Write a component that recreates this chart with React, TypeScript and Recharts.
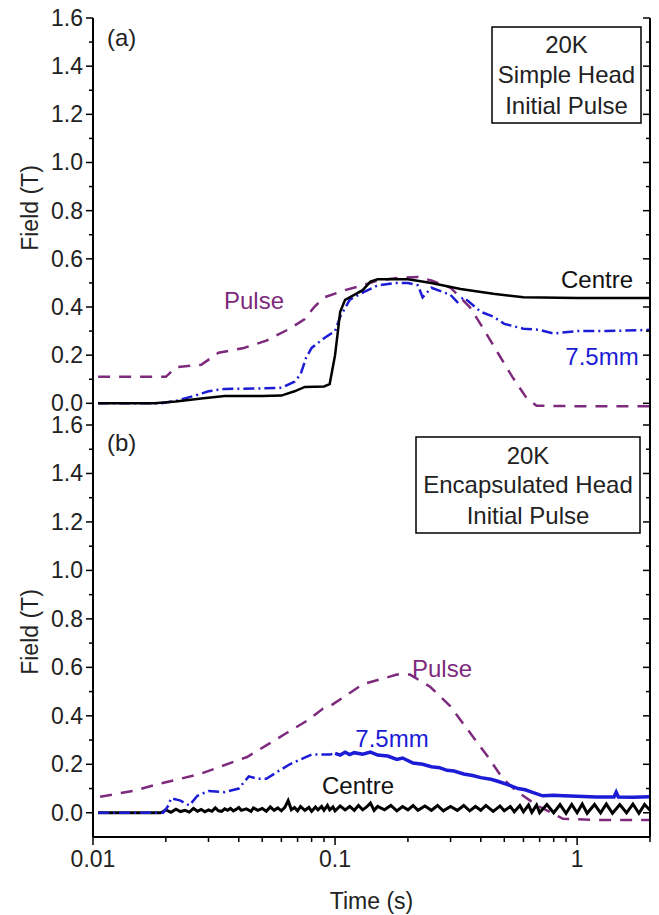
import React from 'react';
import { LineChart, Line, XAxis, YAxis, Customized } from 'recharts';

const FONT = '"Liberation Sans", Arial, Helvetica, sans-serif';
const PURPLE = '#7d2a7d';
const BLUE = '#1c1cd6';
const BLACK = '#000000';

const X_TICKS = [0.01, 0.02, 0.03, 0.04, 0.05, 0.06, 0.07, 0.08, 0.09, 0.1, 0.2, 0.3, 0.4, 0.5, 0.6, 0.7, 0.8, 0.9, 1, 2];
const X_LABELS: Record<string, string> = { '0.01': '0.01', '0.1': '0.1', '1': '1' };
const Y_TICKS = [0, 0.1, 0.2, 0.3, 0.4, 0.5, 0.6, 0.7, 0.8, 0.9, 1.0, 1.1, 1.2, 1.3, 1.4, 1.5, 1.6];

// Panel (a) — Simple Head
const pulseA: [number, number][] = [
  [0.0105, 0.11], [0.02, 0.11], [0.022, 0.15], [0.028, 0.16], [0.033, 0.21], [0.042, 0.23],
  [0.052, 0.26], [0.065, 0.31], [0.075, 0.35], [0.082, 0.4], [0.09, 0.44], [0.11, 0.47],
  [0.13, 0.49], [0.15, 0.51], [0.18, 0.52], [0.22, 0.525], [0.25, 0.51], [0.3, 0.48],
  [0.36, 0.4], [0.41, 0.31], [0.47, 0.21], [0.54, 0.11], [0.62, 0.02], [0.68, -0.01],
  [1, -0.012], [2, -0.012],
];
const blueA: [number, number][] = [
  [0.0105, 0], [0.019, 0], [0.022, 0.01], [0.026, 0.03], [0.03, 0.05], [0.035, 0.06],
  [0.05, 0.062], [0.06, 0.065], [0.068, 0.09], [0.072, 0.12], [0.076, 0.19], [0.08, 0.23],
  [0.09, 0.27], [0.1, 0.3], [0.105, 0.36], [0.115, 0.43], [0.13, 0.46], [0.15, 0.49],
  [0.18, 0.5], [0.2, 0.5], [0.22, 0.49], [0.23, 0.44], [0.25, 0.48], [0.3, 0.45],
  [0.32, 0.42], [0.34, 0.44], [0.4, 0.38], [0.45, 0.36], [0.5, 0.33], [0.6, 0.31],
  [0.7, 0.305], [0.8, 0.29], [1, 0.3], [1.3, 0.3], [2, 0.305],
];
const centreA: [number, number][] = [
  [0.0105, 0], [0.018, 0], [0.022, 0.008], [0.028, 0.02], [0.035, 0.03], [0.05, 0.03],
  [0.06, 0.032], [0.068, 0.05], [0.075, 0.068], [0.09, 0.07], [0.095, 0.08], [0.1, 0.2],
  [0.105, 0.38], [0.11, 0.43], [0.12, 0.45], [0.13, 0.47], [0.14, 0.505], [0.15, 0.515],
  [0.2, 0.515], [0.25, 0.5], [0.33, 0.475], [0.45, 0.455], [0.6, 0.44], [1, 0.437], [2, 0.437],
];

// Panel (b) — Encapsulated Head
const pulseB: [number, number][] = [
  [0.0107, 0.066], [0.0146, 0.09], [0.0189, 0.12], [0.0229, 0.14], [0.0277, 0.16], [0.0335, 0.19],
  [0.0433, 0.23], [0.0524, 0.28], [0.0633, 0.33], [0.0766, 0.38], [0.0892, 0.43], [0.0953, 0.44],
  [0.13, 0.53], [0.18, 0.57], [0.204, 0.57], [0.247, 0.52], [0.299, 0.44], [0.361, 0.33],
  [0.425, 0.235], [0.494, 0.14], [0.565, 0.087], [0.684, 0.03], [0.875, -0.025], [1.2, -0.03], [2, -0.03],
];
const blueB: [number, number][] = [
  [0.0105, 0], [0.0195, 0], [0.0205, 0.03], [0.021, 0.06], [0.023, 0.05], [0.025, 0.03],
  [0.027, 0.07], [0.03, 0.09], [0.035, 0.085], [0.04, 0.1], [0.044, 0.15], [0.048, 0.14],
  [0.052, 0.14], [0.058, 0.17], [0.065, 0.2], [0.072, 0.22], [0.08, 0.24], [0.095, 0.24],
  [0.1, 0.245], [0.105, 0.238], [0.11, 0.25], [0.115, 0.24], [0.12, 0.248], [0.13, 0.242],
  [0.14, 0.25], [0.15, 0.238], [0.165, 0.234], [0.18, 0.22], [0.19, 0.226], [0.21, 0.205],
  [0.23, 0.2], [0.25, 0.19], [0.27, 0.186], [0.29, 0.175], [0.31, 0.172], [0.34, 0.16],
  [0.37, 0.154], [0.4, 0.145], [0.44, 0.138], [0.47, 0.13], [0.52, 0.115], [0.57, 0.1],
  [0.61, 0.095], [0.65, 0.085], [0.72, 0.07], [0.8, 0.072], [0.88, 0.07], [1, 0.068],
  [1.2, 0.065], [1.42, 0.065], [1.45, 0.085], [1.48, 0.065], [1.7, 0.064], [2, 0.066],
];
const centreB: [number, number][] = [
  [0.0105, 0], [0.019, 0], [0.0195, 0.005], [0.02, 0.012], [0.021, 0.002], [0.022, 0.015],
  [0.023, 0.005], [0.024, 0.01], [0.025, 0.003], [0.026, 0.018], [0.027, 0.006], [0.028, 0.014],
  [0.029, 0.004], [0.03, 0.012], [0.031, 0.006], [0.032, 0.02], [0.033, 0.008], [0.034, 0.006],
  [0.035, 0.016], [0.036, 0.01], [0.037, 0.018], [0.038, 0.008], [0.039, 0.014], [0.04, 0.022],
  [0.041, 0.01], [0.043, 0.016], [0.045, 0.006], [0.046, 0.02], [0.048, 0.01], [0.05, 0.018],
  [0.052, 0.006], [0.054, 0.024], [0.056, 0.01], [0.058, 0.02], [0.06, 0.008], [0.062, 0.022],
  [0.064, 0.05], [0.066, 0.012], [0.068, 0.022], [0.07, 0.008], [0.072, 0.026], [0.075, 0.01],
  [0.078, 0.022], [0.08, 0.006], [0.083, 0.024], [0.085, 0.012], [0.088, 0.026], [0.09, 0.01],
  [0.093, 0.03], [0.095, 0.012], [0.098, 0.024], [0.1, 0.008], [0.105, 0.028], [0.11, 0.012],
  [0.115, 0.026], [0.12, 0.01], [0.125, 0.03], [0.13, 0.012], [0.135, 0.024], [0.14, 0.04],
  [0.145, 0.01], [0.15, 0.026], [0.16, 0.012], [0.17, 0.03], [0.18, 0.008], [0.19, 0.026],
  [0.2, 0.012], [0.21, 0.03], [0.22, 0.01], [0.235, 0.028], [0.25, 0.01], [0.265, 0.03],
  [0.28, 0.008], [0.3, 0.026], [0.32, 0.01], [0.34, 0.03], [0.36, 0.008], [0.38, 0.026],
  [0.4, 0.01], [0.42, 0.03], [0.45, 0.006], [0.48, 0.028], [0.5, 0.008], [0.53, 0.026],
  [0.55, 0.004], [0.58, 0.03], [0.6, 0.004], [0.63, 0.032], [0.65, 0.002], [0.68, 0.032],
  [0.7, 0.0], [0.75, 0.034], [0.8, 0.0], [0.85, 0.034], [0.9, -0.002], [0.95, 0.034],
  [1, 0.0], [1.05, 0.036], [1.1, -0.002], [1.18, 0.034], [1.25, 0.0], [1.32, 0.036],
  [1.4, -0.002], [1.5, 0.034], [1.6, 0.0], [1.7, 0.036], [1.8, -0.002], [1.9, 0.034], [2, 0.01],
];

const toRows = (arr: [number, number][]) => arr.map(([t, v]) => ({ t, v }));

const isMajorY = (v: number) => Math.round(v * 10) % 2 === 0;
const xKey = (v: number) => String(Math.round(v * 1000) / 1000);
const isMajorX = (v: number) => X_LABELS[xKey(v)] !== undefined;

const makeYTick = (side: 'left' | 'right', showLabel: boolean) => (props: any) => {
  const { x, y, payload } = props;
  const v = payload.value;
  const len = isMajorY(v) ? 7 : 4;
  if (side === 'left') {
    return (
      <g>
        <line x1={x - len} x2={x} y1={y} y2={y} stroke={BLACK} strokeWidth={1.5} />
        {showLabel && isMajorY(v) && (
          <text x={x - 10} y={y} textAnchor="end" dominantBaseline="central" fontSize={23} fontFamily={FONT} fill="#222">
            {v.toFixed(1)}
          </text>
        )}
      </g>
    );
  }
  return <line x1={x - len} x2={x} y1={y} y2={y} stroke={BLACK} strokeWidth={1.5} />;
};

const makeXTick = (side: 'top' | 'bottom', showLabel: boolean) => (props: any) => {
  const { x, y, payload } = props;
  const v = payload.value;
  const len = isMajorX(v) ? 8 : 5;
  if (side === 'bottom') {
    return (
      <g>
        <line x1={x} x2={x} y1={y} y2={y + len} stroke={BLACK} strokeWidth={1.5} />
        {showLabel && isMajorX(v) && (
          <text x={x} y={y + 22} textAnchor="middle" dominantBaseline="central" fontSize={23} fontFamily={FONT} fill="#222">
            {X_LABELS[xKey(v)]}
          </text>
        )}
      </g>
    );
  }
  return <line x1={x} x2={x} y1={y} y2={y + len} stroke={BLACK} strokeWidth={1.5} />;
};

const axisLine = { stroke: BLACK, strokeWidth: 2 };

const txt = (x: number, y: number, s: string, fill: string, size = 24, anchor: any = 'middle') => (
  <text x={x} y={y} textAnchor={anchor} dominantBaseline="central" fontSize={size} fontFamily={FONT} fill={fill}>
    {s}
  </text>
);

const AnnotA = () => (
  <g>
    <text x={30} y={208} transform="rotate(-90 30 208)" textAnchor="middle" dominantBaseline="central" fontSize={23} fontFamily={FONT} fill="#222">
      Field (T)
    </text>
    {txt(107, 37, '(a)', '#222', 24, 'start')}
    <rect x={492} y={27} width={149} height={96} fill="#fff" stroke={BLACK} strokeWidth={1.5} />
    {txt(566.5, 44, '20K', '#222')}
    {txt(566.5, 74, 'Simple Head', '#222')}
    {txt(566.5, 105, 'Initial Pulse', '#222')}
    {txt(254, 300, 'Pulse', PURPLE)}
    {txt(597, 279, 'Centre', '#111')}
    {txt(602, 356, '7.5mm', BLUE)}
  </g>
);

const AnnotB = () => (
  <g>
    <text x={30} y={222} transform="rotate(-90 30 222)" textAnchor="middle" dominantBaseline="central" fontSize={23} fontFamily={FONT} fill="#222">
      Field (T)
    </text>
    {txt(107, 32, '(b)', '#222', 24, 'start')}
    <rect x={416} y={27} width={224} height={96} fill="#fff" stroke={BLACK} strokeWidth={1.5} />
    {txt(528, 45, '20K', '#222')}
    {txt(528, 74, 'Encapsulated Head', '#222')}
    {txt(528, 105, 'Initial Pulse', '#222')}
    {txt(442, 258, 'Pulse', PURPLE)}
    {txt(392, 328, '7.5mm', BLUE)}
    {txt(358, 375, 'Centre', '#111')}
  </g>
);

const commonX = {
  type: 'number' as const,
  dataKey: 't',
  scale: 'log' as const,
  domain: [0.01, 2],
  allowDataOverflow: true,
  ticks: X_TICKS,
  interval: 0 as const,
  tickSize: 0,
  tickMargin: 0,
  tickLine: false,
};

const commonY = {
  type: 'number' as const,
  ticks: Y_TICKS,
  allowDataOverflow: true,
  interval: 0 as const,
  tickSize: 0,
  tickMargin: 0,
  tickLine: false,
  axisLine,
};

export default function App() {
  const blueBEarly = blueB.filter(([t]) => t <= 0.1);
  const blueBLate = blueB.filter(([t]) => t >= 0.1);
  return (
    <div style={{ position: 'absolute', left: 0, top: 0, width: 659, height: 915, background: '#fff', overflow: 'hidden' }}>
      <div style={{ position: 'absolute', left: 0, top: 0 }}>
        <LineChart width={659} height={440} margin={{ top: 18, right: 0, bottom: 15, left: 0 }}>
          <XAxis {...commonX} xAxisId="top" orientation="top" height={0} axisLine={axisLine} tick={makeXTick('top', false)} />
          <XAxis {...commonX} xAxisId="bot" orientation="bottom" height={0} axisLine={axisLine} tick={false} />
          <YAxis {...commonY} yAxisId="left" orientation="left" width={93} domain={[-0.09, 1.6]} tick={makeYTick('left', true)} />
          <YAxis {...commonY} yAxisId="right" orientation="right" width={9} domain={[-0.09, 1.6]} tick={makeYTick('right', false)} />
          <Line xAxisId="top" yAxisId="left" data={toRows(pulseA)} dataKey="v" stroke={PURPLE} strokeWidth={2.5} strokeDasharray="12 9" dot={false} isAnimationActive={false} />
          <Line xAxisId="top" yAxisId="left" data={toRows(blueA)} dataKey="v" stroke={BLUE} strokeWidth={2.5} strokeDasharray="11 4 2 4" dot={false} isAnimationActive={false} />
          <Line xAxisId="top" yAxisId="left" data={toRows(centreA)} dataKey="v" stroke={BLACK} strokeWidth={2.5} dot={false} isAnimationActive={false} />
          <Customized component={AnnotA} />
        </LineChart>
      </div>
      <div style={{ position: 'absolute', left: 0, top: 410 }}>
        <LineChart width={659} height={505} margin={{ top: 15, right: 0, bottom: 0, left: 0 }}>
          <XAxis {...commonX} xAxisId="top" orientation="top" height={0} axisLine={axisLine} tick={makeXTick('top', false)} />
          <XAxis
            {...commonX}
            xAxisId="bot"
            orientation="bottom"
            height={78}
            axisLine={axisLine}
            tick={makeXTick('bottom', true)}
            label={{ value: 'Time (s)', position: 'insideBottom', offset: 6, fontSize: 23, fontFamily: FONT, fill: '#222' }}
          />
          <YAxis {...commonY} yAxisId="left" orientation="left" width={93} domain={[-0.1, 1.6]} tick={makeYTick('left', true)} />
          <YAxis {...commonY} yAxisId="right" orientation="right" width={9} domain={[-0.1, 1.6]} tick={makeYTick('right', false)} />
          <Line xAxisId="bot" yAxisId="left" data={toRows(pulseB)} dataKey="v" stroke={PURPLE} strokeWidth={2.5} strokeDasharray="12 9" dot={false} isAnimationActive={false} />
          <Line xAxisId="bot" yAxisId="left" data={toRows(centreB)} dataKey="v" stroke={BLACK} strokeWidth={3} dot={false} isAnimationActive={false} />
          <Line xAxisId="bot" yAxisId="left" data={toRows(blueBEarly)} dataKey="v" stroke={BLUE} strokeWidth={2.5} strokeDasharray="11 4 2 4" dot={false} isAnimationActive={false} />
          <Line xAxisId="bot" yAxisId="left" data={toRows(blueBLate)} dataKey="v" stroke={BLUE} strokeWidth={3.5} dot={false} isAnimationActive={false} />
          <Customized component={AnnotB} />
        </LineChart>
      </div>
    </div>
  );
}
